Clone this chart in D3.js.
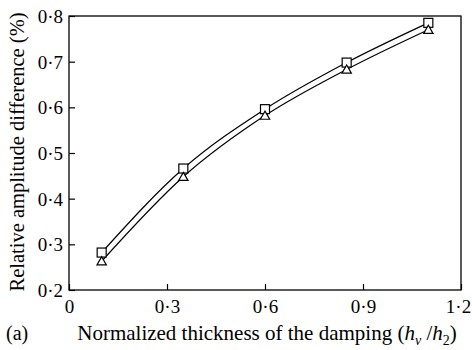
<!DOCTYPE html>
<head>
  <meta charset="utf-8">
  <script src="https://d3js.org/d3.v7.min.js"></script>
  <style>
    body { margin:0; background:#fff; }
    text { font-family: "Liberation Serif", "Times New Roman", serif; fill:#000; }
  </style>
</head>
<body>
  <svg id="chart" width="472" height="350"></svg>
  <script>
    // data
    var thickness = [0.1, 0.35, 0.6, 0.85, 1.1];
    var squareVals = [0.282, 0.466, 0.596, 0.698, 0.785];
    var triangleVals = [0.263, 0.448, 0.582, 0.683, 0.770];
    var xTicks = [0, 0.3, 0.6, 0.9, 1.2];
    var yTicks = [0.2, 0.3, 0.4, 0.5, 0.6, 0.7, 0.8];

    var svg = d3.select("#chart");
    var mLeft = 69, mRight = 461, mTop = 16, mBottom = 290;

    var x = d3.scaleLinear().domain([0, 1.2]).range([mLeft, mRight]);
    var y = d3.scaleLinear().domain([0.2, 0.8]).range([mBottom, mTop]);
    var fmt = function(d){ return d === 0 ? "0" : d3.format(".1f")(d).replace(".", "\u00b7"); };

    // frame
    svg.append("rect")
      .attr("x", mLeft).attr("y", mTop)
      .attr("width", mRight-mLeft).attr("height", mBottom-mTop)
      .attr("fill", "none").attr("stroke", "#000").attr("stroke-width", 1.3);

    var xAxis = svg.append("g").attr("transform", "translate(0," + mBottom + ")")
      .call(d3.axisBottom(x).tickValues(xTicks).tickFormat(fmt).tickSizeInner(-6).tickSizeOuter(0));
    var yAxis = svg.append("g").attr("transform", "translate(" + mLeft + ",0)")
      .call(d3.axisLeft(y).tickValues(yTicks).tickFormat(fmt).tickSizeInner(-6).tickSizeOuter(0).tickPadding(6));
    [xAxis, yAxis].forEach(function(a){
      a.select(".domain").remove();
      a.selectAll("line").attr("stroke", "#000").attr("stroke-width", 1.2);
      a.selectAll("text").style("font-family", "'Liberation Serif', serif").style("font-size", "19px").attr("fill", "#000");
    });
    yAxis.selectAll("text").attr("dy", "0.35em");
    xAxis.selectAll("text").attr("y", 23).attr("dy", 0)
      .attr("dx", function(d){ return d === 1.2 ? -3 : 0; });

    var line = d3.line().x(function(d){ return x(d[0]); }).y(function(d){ return y(d[1]); })
      .curve(d3.curveMonotoneX);

    var sq = thickness.map(function(t, i){ return [t, squareVals[i]]; });
    var tr = thickness.map(function(t, i){ return [t, triangleVals[i]]; });

    svg.append("path").datum(sq).attr("d", line).attr("fill", "none").attr("stroke", "#000").attr("stroke-width", 1.2);
    svg.append("path").datum(tr).attr("d", line).attr("fill", "none").attr("stroke", "#000").attr("stroke-width", 1.2);

    svg.selectAll(".sq").data(sq).enter().append("rect")
      .attr("x", function(d){ return x(d[0]) - 4.5; })
      .attr("y", function(d){ return y(d[1]) - 4.5; })
      .attr("width", 9).attr("height", 9)
      .attr("fill", "#fff").attr("stroke", "#000").attr("stroke-width", 1.2);

    var tri = d3.symbol().type(d3.symbolTriangle).size(38);
    svg.selectAll(".tr").data(tr).enter().append("path")
      .attr("d", tri)
      .attr("transform", function(d){ return "translate(" + x(d[0]) + "," + (y(d[1]) + 1) + ")"; })
      .attr("fill", "#fff").attr("stroke", "#000").attr("stroke-width", 1.2);

    // axis titles
    svg.append("text")
      .attr("transform", "translate(24,152) rotate(-90)")
      .attr("text-anchor", "middle").style("font-size", "20.5px")
      .text("Relative amplitude difference (%)");

    svg.append("text").attr("x", 6).attr("y", 340).style("font-size", "20px").text("(a)");

    var xl = svg.append("text").attr("x", 267).attr("y", 340)
      .attr("text-anchor", "middle").style("font-size", "21px");
    xl.append("tspan").text("Normalized thickness of the damping (");
    xl.append("tspan").style("font-style", "italic").text("h");
    xl.append("tspan").attr("dy", 5).style("font-size", "14px").style("font-style", "italic").text("v");
    xl.append("tspan").attr("dy", -5).text(" /");
    xl.append("tspan").style("font-style", "italic").text("h");
    xl.append("tspan").attr("dy", 5).style("font-size", "14px").text("2");
    xl.append("tspan").attr("dy", -5).text(")");
  </script>
</body>
